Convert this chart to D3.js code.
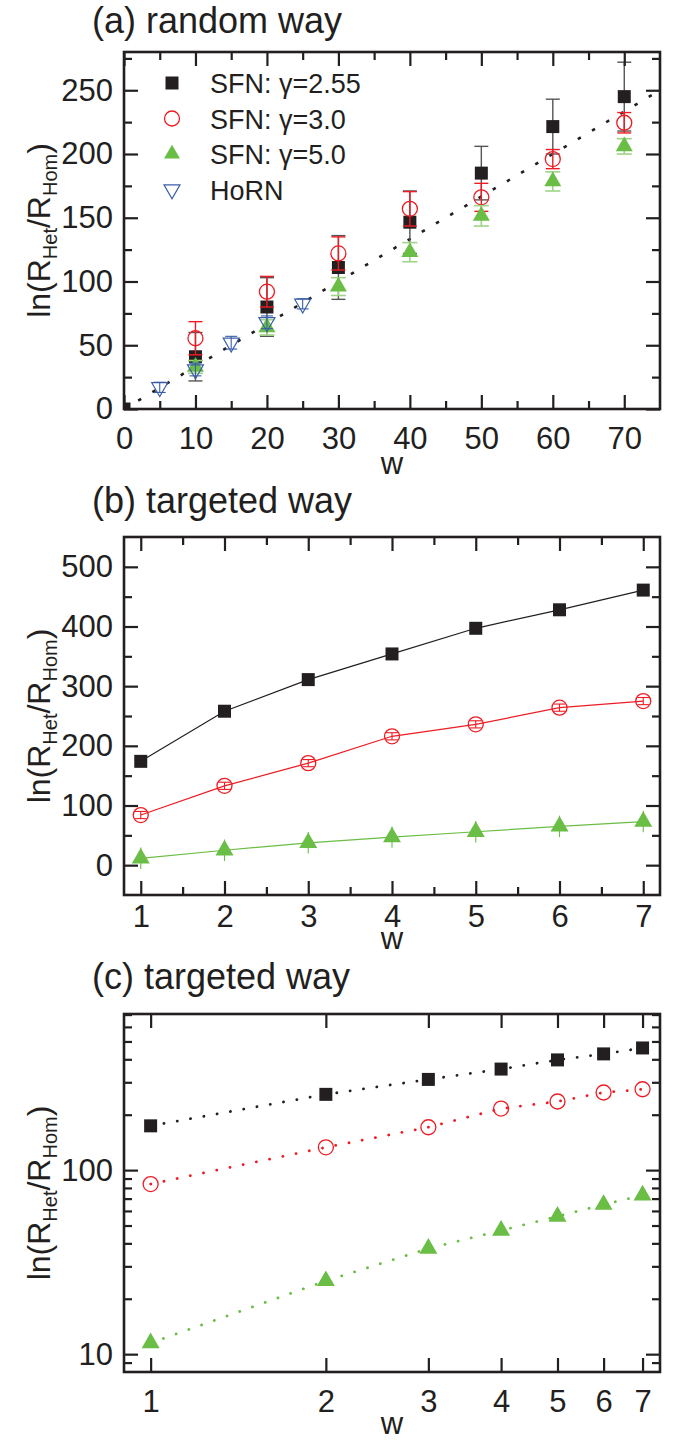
<!DOCTYPE html>
<html><head><meta charset="utf-8">
<script src="https://cdn.jsdelivr.net/npm/d3@7"></script>
<style>
body{margin:0;background:#fff}
svg{display:block}
text{font-family:"Liberation Sans",Arial,Helvetica,sans-serif;fill:#231f20}
</style>
</head><body>
<svg id="chart" width="674" height="1440"></svg>
<script>
// ---------- DATA ----------
// Panel (a): random way
const wA = [10, 20, 30, 40, 50, 60, 70];
const sfn255A = [41, 80, 111, 146.5, 185, 221.5, 245];
const sfn255AErr = [19, 23, 25, 24.5, 21, 21.5, 27];
const sfn30A = [55.5, 92, 122, 157, 166, 196, 224.5];
const sfn30AErr = [13, 12, 13, 13.5, 11, 7.5, 8];
const sfn50A = [33, 64, 96, 123, 151.5, 178.5, 206];
const sfn50AErr = [5, 6, 7, 7.5, 8, 7.5, 6];
const hornW = [5, 10, 15, 20, 25];
const hornA = [17, 31, 52, 68, 82.5];
const hornAErr = [4, 5, 5, 5, 4];
const originW = [0];
const originA = [0];
const fitW = [0, 75];
const fitA = [0, 250];
const legendLabels = ["SFN: \u03b3=2.55", "SFN: \u03b3=3.0", "SFN: \u03b3=5.0", "HoRN"];

// Panels (b) and (c): targeted way
const wB = [1, 2, 3, 4, 5, 6, 7];
const sfn255B = [174, 258, 311, 354, 397, 428, 461];
const sfn255BErr = [5, 5, 5, 5, 5, 5, 5];
const sfn30B = [84, 133, 171, 216, 236, 264, 275];
const sfn30BErr = [6, 6, 6, 6, 6, 6, 6];
const sfn50B = [11.5, 25, 37.5, 47, 56, 65, 73];
const sfn50BErr = [18, 18, 18, 18, 18, 18, 18];

// tick values
const aXMajor = [0, 10, 20, 30, 40, 50, 60, 70];
const aXMinor = [5, 15, 25, 35, 45, 55, 65];
const aYMajor = [0, 50, 100, 150, 200, 250];
const aYMinor = [25, 75, 125, 175, 225, 275];
const bXMajor = [1, 2, 3, 4, 5, 6, 7];
const bXMinor = [1.5, 2.5, 3.5, 4.5, 5.5, 6.5];
const bYMajor = [0, 100, 200, 300, 400, 500];
const bYMinor = [50, 150, 250, 350, 450];
const cXMajor = [1, 2, 3, 4, 5, 6, 7];
const cYMajor = [10, 100];
const cYMinor = [9, 20, 30, 40, 50, 60, 70, 80, 90, 200, 300, 400, 500, 600, 700];

// ---------- STYLE ----------
const BLACK = "#231f20", RED = "#ed1c24", GREEN = "#6abd45", LGREEN = "#9ed486", BLUE = "#3a5daa", GRAY = "#555";
const L = 124, R = 660;
const svg = d3.select("#chart");

function frame(g, x, y, top, bottom, xMaj, xMin, yMaj, yMin, xFmt, yFmt, xPad) {
  const h = bottom - top;
  const W = R - L;
  const mk = (axis, vals, size, fmt, pad) => axis.tickValues(vals).tickSize(-size).tickPadding(pad).tickFormat(fmt);
  const none = () => "";
  const ax = [];
  ax.push(g.append("g").attr("transform", `translate(0,${bottom})`).call(mk(d3.axisBottom(x), xMaj, 14, xFmt, xPad)));
  ax.push(g.append("g").attr("transform", `translate(0,${bottom})`).call(mk(d3.axisBottom(x), xMin, 8, none, xPad)));
  ax.push(g.append("g").attr("transform", `translate(0,${top})`).call(mk(d3.axisTop(x), xMaj, 14, none, 4)));
  ax.push(g.append("g").attr("transform", `translate(0,${top})`).call(mk(d3.axisTop(x), xMin, 8, none, 4)));
  ax.push(g.append("g").attr("transform", `translate(${L},0)`).call(mk(d3.axisLeft(y), yMaj, 14, yFmt, 11)));
  ax.push(g.append("g").attr("transform", `translate(${L},0)`).call(mk(d3.axisLeft(y), yMin, 8, none, 11)));
  ax.push(g.append("g").attr("transform", `translate(${R},0)`).call(mk(d3.axisRight(y), yMaj, 14, none, 4)));
  ax.push(g.append("g").attr("transform", `translate(${R},0)`).call(mk(d3.axisRight(y), yMin, 8, none, 4)));
  ax.forEach(a => {
    a.select(".domain").remove();
    a.selectAll(".tick line").attr("stroke", BLACK).attr("stroke-width", 2.2);
    a.selectAll("text").attr("font-size", 31).attr("fill", BLACK).style("font-family", '"Liberation Sans",Arial,sans-serif');
  });
  g.append("rect").attr("x", L).attr("y", top).attr("width", W).attr("height", h)
    .attr("fill", "none").attr("stroke", BLACK).attr("stroke-width", 2.6);
}

function yLabel(g, cy) {
  const t = g.append("text").attr("transform", `translate(50,${cy}) rotate(-90)`)
    .attr("text-anchor", "middle").attr("font-size", 32);
  t.append("tspan").text("ln(R");
  t.append("tspan").attr("font-size", 20).attr("dy", 7).text("Het");
  t.append("tspan").attr("dy", -7).text("/R");
  t.append("tspan").attr("font-size", 20).attr("dy", 7).text("Hom");
  t.append("tspan").attr("dy", -7).text(")");
}
function xLabel(g, yb) {
  g.append("text").attr("x", (L + R) / 2).attr("y", yb).attr("text-anchor", "middle")
    .attr("font-size", 31).text("w");
}
function title(g, y, s) {
  g.append("text").attr("x", 92).attr("y", y).attr("font-size", 36).text(s);
}

const sq = s => d3.symbol().type(d3.symbolSquare).size(s * s)();
const tri = s => d3.symbol().type(d3.symbolTriangle).size(Math.sqrt(3) / 4 * s * s)();

function errBars(g, xs, ys, es, x, y, color, width, cap) {
  const d = xs.map((w, i) => [w, ys[i], es[i]]);
  const gg = g.append("g").attr("stroke", color).attr("stroke-width", width).attr("fill", "none");
  gg.selectAll("line.v").data(d).join("line").attr("class", "v")
    .attr("x1", e => x(e[0])).attr("x2", e => x(e[0]))
    .attr("y1", e => y(e[1] - e[2])).attr("y2", e => y(e[1] + e[2]));
  if (cap > 0) {
    [-1, 1].forEach(sgn => {
      gg.selectAll(null).data(d).join("line")
        .attr("x1", e => x(e[0]) - cap / 2).attr("x2", e => x(e[0]) + cap / 2)
        .attr("y1", e => y(e[1] + sgn * e[2])).attr("y2", e => y(e[1] + sgn * e[2]));
    });
  }
}
function markers(g, xs, ys, x, y, kind, size, color) {
  const d = xs.map((w, i) => [w, ys[i]]);
  const sel = g.append("g").selectAll("path").data(d).join("path");
  if (kind === "square") sel.attr("d", sq(size)).attr("fill", BLACK);
  else if (kind === "circle") sel.attr("d", d3.symbol().type(d3.symbolCircle).size(Math.PI * size * size)()).attr("fill", "none").attr("stroke", color).attr("stroke-width", 1.3);
  else if (kind === "tri") sel.attr("d", tri(size)).attr("fill", color);
  else if (kind === "dtri") sel.attr("d", tri(size)).attr("fill", "none").attr("stroke", color).attr("stroke-width", 1.2);
  sel.attr("transform", e => `translate(${x(e[0])},${y(e[1])})` + (kind === "dtri" ? " rotate(180)" : ""));
}

// ---------- PANEL (a) ----------
{
  const top = 52, bottom = 409;
  const g = svg.append("g");
  const x = d3.scaleLinear().domain([0, 75]).range([L, R]);
  const y = d3.scaleLinear().domain([0, 280]).range([bottom, top]);
  title(g, 33, "(a) random way");
  g.append("clipPath").attr("id", "clipA").append("rect").attr("x", L).attr("y", top).attr("width", R - L).attr("height", bottom - top);
  const p = g.append("g").attr("clip-path", "url(#clipA)");
  p.append("path").datum(fitW.map((w, i) => [w, fitA[i]]))
    .attr("d", d3.line().x(d => x(d[0])).y(d => y(d[1])))
    .attr("fill", "none").attr("stroke", BLACK).attr("stroke-width", 2.6).attr("stroke-dasharray", "3.5 13");
  markers(p, originW, originA, x, y, "square", 13, BLACK);
  errBars(p, wA, sfn255A, sfn255AErr, x, y, GRAY, 1.4, 14);
  markers(p, wA, sfn255A, x, y, "square", 13, BLACK);
  errBars(p, wA, sfn30A, sfn30AErr, x, y, RED, 1.4, 14);
  markers(p, wA, sfn30A, x, y, "circle", 7.5, RED);
  errBars(p, wA, sfn50A, sfn50AErr, x, y, LGREEN, 1.6, 15);
  markers(p, wA, sfn50A, x, y, "tri", 17, GREEN);
  errBars(p, hornW, hornA, hornAErr, x, y, BLUE, 1.1, 12);
  markers(p, hornW, hornA, x, y, "dtri", 16, BLUE);
  frame(g, x, y, top, bottom, aXMajor, aXMinor, aYMajor, aYMinor, d3.format("d"), d3.format("d"), 18);
  yLabel(g, (top + bottom) / 2);
  xLabel(g, bottom + 65);
  // legend
  const kinds = ["square", "circle", "tri", "dtri"];
  const cols = [BLACK, RED, GREEN, BLUE];
  const lg = g.append("g");
  legendLabels.forEach((lab, i) => {
    const cy = 83 + i * 35.5;
    const ly = d3.scaleLinear().domain([0, 1]).range([cy, cy + 1]);
    const lx = d3.scaleLinear().domain([0, 1]).range([172, 173]);
    markers(lg, [0], [0], lx, ly, kinds[i], kinds[i] === "square" ? 13 : kinds[i] === "circle" ? 7.5 : 16, cols[i]);
    lg.append("text").attr("x", 210).attr("y", cy + 10).attr("font-size", 27).text(lab);
  });
}

// ---------- PANEL (b) ----------
{
  const top = 537, bottom = 895;
  const g = svg.append("g");
  const x = d3.scaleLinear().domain([0.8, 7.2]).range([L, R]);
  const y = d3.scaleLinear().domain([-50, 550]).range([bottom, top]);
  title(g, 513, "(b) targeted way");
  const line = d3.line().x(d => x(d[0])).y(d => y(d[1]));
  const series = [[sfn255B, sfn255BErr, BLACK, "square", 13], [sfn30B, sfn30BErr, RED, "circle", 7.5], [sfn50B, sfn50BErr, GREEN, "tri", 18]];
  series.forEach(([vals, errs, col, kind, size]) => {
    g.append("path").datum(wB.map((w, i) => [w, vals[i]])).attr("d", line)
      .attr("fill", "none").attr("stroke", col).attr("stroke-width", 1.2);
    errBars(g, wB, vals, errs, x, y, col, 1.1, kind === "circle" ? 12 : 0);
    markers(g, wB, vals, x, y, kind, size, col);
  });
  frame(g, x, y, top, bottom, bXMajor, bXMinor, bYMajor, bYMinor, d3.format("d"), d3.format("d"), 10);
  yLabel(g, (top + bottom) / 2);
  xLabel(g, bottom + 54);
}

// ---------- PANEL (c) ----------
{
  const top = 1014, bottom = 1372;
  const g = svg.append("g");
  const x = d3.scaleLog().domain([0.9, 7.5]).range([L, R]);
  const y = d3.scaleLog().domain([8, 705]).range([bottom, top]);
  title(g, 989, "(c) targeted way");
  const line = d3.line().x(d => x(d[0])).y(d => y(d[1]));
  const series = [[sfn255B, BLACK, "square", 13], [sfn30B, RED, "circle", 7.5], [sfn50B, GREEN, "tri", 18]];
  series.forEach(([vals, col, kind, size]) => {
    g.append("path").datum(wB.map((w, i) => [w, vals[i]])).attr("d", line)
      .attr("fill", "none").attr("stroke", col).attr("stroke-width", 2.8)
      .attr("stroke-linecap", "round").attr("stroke-dasharray", "0.1 13.4");
    markers(g, wB, vals, x, y, kind, size, col);
  });
  frame(g, x, y, top, bottom, cXMajor, [], cYMajor, cYMinor, d3.format("d"), d3.format("d"), 18);
  yLabel(g, (top + bottom) / 2);
  xLabel(g, bottom + 62);
}
</script>
</body></html>
